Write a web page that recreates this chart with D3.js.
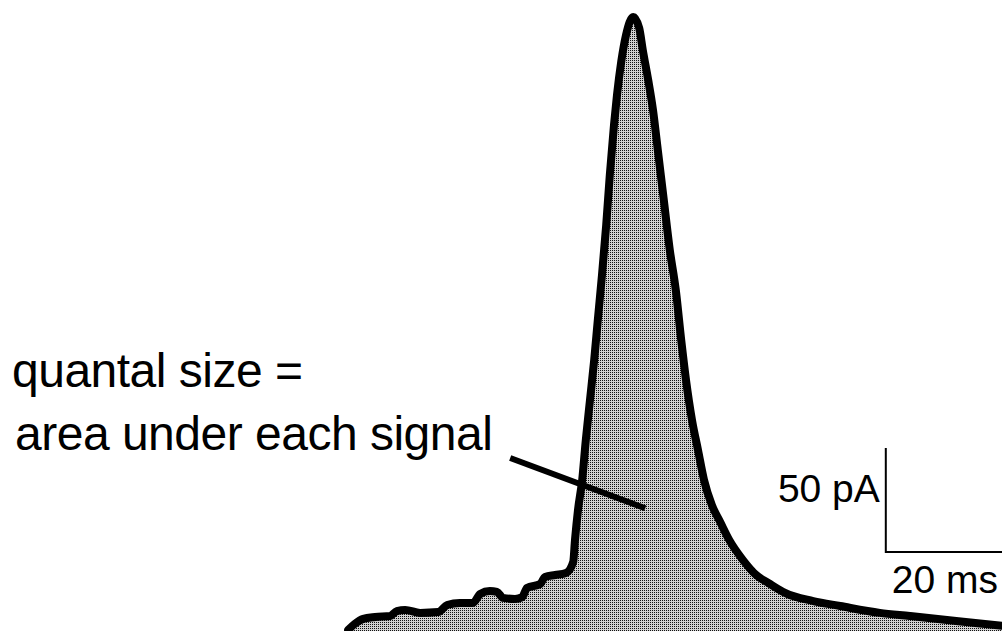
<!DOCTYPE html>
<html>
<head>
<meta charset="utf-8">
<script src="https://cdn.jsdelivr.net/npm/d3@7"></script>
<style>
  html, body { margin: 0; padding: 0; background: #fff; }
  svg { display: block; }
  text { font-family: "Liberation Sans", Arial, sans-serif; fill: #000; }
</style>
</head>
<body>
<svg id="chart" width="1002" height="631"></svg>
<script>
// Amperometric spike: time (ms) and current (pA)
const timeMs = [
  -0.3, 0.8, 2.2, 4.2, 6.7, 7.8, 9.2, 11.7, 14.7, 16.2, 18.3, 20.5, 21.7, 23.3,
  24.5, 25.5, 27.5, 28.7, 29.5, 31.7, 32.5, 34.2, 36.0, 37.2, 37.5, 38.0, 38.7,
  39.3, 40.0, 40.7, 41.3, 42.0, 42.7, 43.3, 44.0, 44.5, 45.2, 46.0, 47.2, 48.2,
  48.8, 49.7, 50.5, 51.3, 52.3, 53.3, 54.3, 55.2, 56.0, 57.0, 58.0, 59.0, 60.3,
  61.7, 63.2, 65.5, 67.7, 70.0, 72.5, 77.2, 81.7, 88.3, 93.3, 99.5, 104.2, 109.2
];
const currentPA = [
  0.5, 3.4, 5.8, 6.7, 7.2, 9.6, 10.1, 8.7, 9.1, 12.5, 13.5, 13.5, 17.8, 19.2,
  18.8, 15.9, 15.4, 16.3, 20.7, 22.6, 26.0, 26.9, 27.9, 33.2, 43.8, 58.2, 72.6,
  91.8, 111.1, 130.3, 149.5, 171.2, 195.2, 219.2, 243.3, 257.7, 273.6, 286.5, 295.2, 289.9,
  279.3, 264.9, 250.5, 231.3, 207.2, 183.2, 163.9, 139.9, 120.7, 101.4, 87.0, 72.6, 60.6,
  52.4, 43.8, 34.1, 26.9, 22.6, 18.3, 14.4, 12.0, 8.7, 7.2, 5.3, 3.8, 2.4
];

// Annotation text and scale bar
const noteLines = ["quantal size =", "area under each signal"];
const pointerFrom = { t: 26.7, v: 83.2 };
const pointerTo = { t: 49.2, v: 59.0 };
const scaleBar = { t0: 89.3, v0: 38.0, dt: 20, dv: 50 };
const scaleLabels = { current: "50 pA", time: "20 ms" };

const data = timeMs.map((t, i) => ({ t, v: currentPA[i] }));

const svg = d3.select("#chart");

// 6 px per ms, 2.08 px per pA
const x = d3.scaleLinear().domain([0, 20]).range([350, 470]);
const y = d3.scaleLinear().domain([0, 50]).range([631, 527]);

// stipple fill
const defs = svg.append("defs");
const pat = defs.append("pattern")
  .attr("id", "stipple")
  .attr("patternUnits", "userSpaceOnUse")
  .attr("width", 2).attr("height", 2);
pat.append("rect").attr("width", 2).attr("height", 2).attr("fill", "#d0d0d0");
pat.append("rect").attr("width", 1).attr("height", 1).attr("fill", "#111");

const area = d3.area()
  .x(d => x(d.t))
  .y0(y(0))
  .y1(d => y(d.v))
  .curve(d3.curveMonotoneX);

const line = d3.line()
  .x(d => x(d.t))
  .y(d => y(d.v))
  .curve(d3.curveMonotoneX);

svg.append("path")
  .datum(data)
  .attr("d", area)
  .attr("fill", "url(#stipple)")
  .attr("shape-rendering", "crispEdges");

svg.append("path")
  .datum(data)
  .attr("d", line)
  .attr("fill", "none")
  .attr("stroke", "#000")
  .attr("stroke-width", 8)
  .attr("stroke-linejoin", "round")
  .attr("stroke-linecap", "round");

// pointer from the note to the shaded area
svg.append("line")
  .attr("x1", x(pointerFrom.t)).attr("y1", y(pointerFrom.v))
  .attr("x2", x(pointerTo.t)).attr("y2", y(pointerTo.v))
  .attr("stroke", "#000")
  .attr("stroke-width", 6);

// note text
const note = svg.append("g");
note.append("text")
  .attr("x", 12).attr("y", 387)
  .attr("font-size", 48)
  .attr("letter-spacing", -0.5)
  .text(noteLines[0]);
note.append("text")
  .attr("x", 15).attr("y", 450)
  .attr("font-size", 48)
  .attr("letter-spacing", -0.5)
  .text(noteLines[1]);

// scale bar
const sb = svg.append("g").attr("stroke", "#000").attr("stroke-width", 2).attr("fill", "none");
sb.append("path")
  .attr("d", `M${x(scaleBar.t0)},${y(scaleBar.v0 + scaleBar.dv)} L${x(scaleBar.t0)},${y(scaleBar.v0)} L${x(scaleBar.t0 + scaleBar.dt)},${y(scaleBar.v0)}`);

svg.append("text")
  .attr("x", x(scaleBar.t0) - 6)
  .attr("y", 502)
  .attr("text-anchor", "end")
  .attr("font-size", 39)
  .text(scaleLabels.current);

svg.append("text")
  .attr("x", x(scaleBar.t0) + 6)
  .attr("y", 593)
  .attr("font-size", 39)
  .text(scaleLabels.time);
</script>
</body>
</html>
